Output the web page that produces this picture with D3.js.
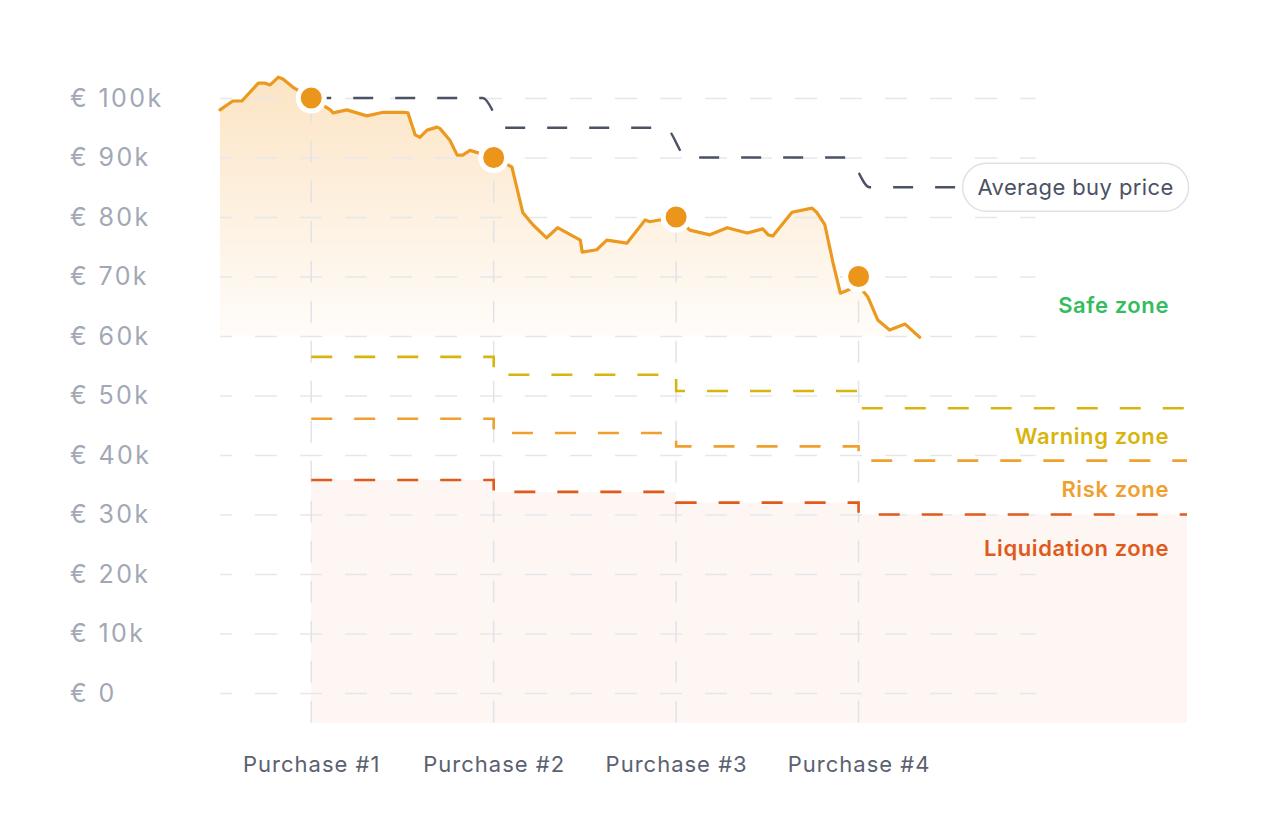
<!DOCTYPE html>
<html>
<head>
<meta charset="utf-8">
<script src="https://cdn.jsdelivr.net/npm/d3@7"></script>
<style>
  html, body { margin: 0; padding: 0; background: #fff; }
  svg { display: block; font-family: Inter, "Noto Sans", sans-serif; }
</style>
</head>
<body>
<div id="chart"></div>
<script>
// price in k€, time in days since start
var priceDays   = [0, 1.4, 2.4, 2.7, 4.2, 4.9, 5.5, 6.4, 6.9, 8.0, 10, 12.1, 12.4, 13.9, 15.0, 16.1, 17.9, 20.1, 20.6, 21.4, 21.9, 22.7, 23.8, 24.1, 25.2, 26.0, 26.6, 27.4, 30, 32.0, 33.2, 34.3, 35.8, 37.0, 39.5, 39.7, 41.3, 42.4, 44.6, 46.6, 47.1, 50, 51.5, 53.7, 55.6, 57.8, 59.5, 60.1, 60.6, 62.7, 64.9, 65.4, 66.3, 67.2, 68.0, 70, 71.0, 72.1, 73.4, 75.1, 76.7];
var priceValues = [98.0, 99.5, 99.5, 100.0, 102.5, 102.5, 102.2, 103.5, 103.2, 101.8, 100, 98.0, 97.5, 98.0, 97.5, 97.0, 97.6, 97.6, 97.5, 93.8, 93.4, 94.6, 95.1, 94.9, 92.9, 90.4, 90.4, 91.2, 90, 88.4, 80.7, 78.7, 76.5, 78.2, 76.1, 74.1, 74.5, 76.1, 75.6, 79.5, 79.2, 80, 77.8, 77.0, 78.2, 77.3, 78.0, 77.0, 76.8, 80.8, 81.5, 80.8, 78.7, 72.3, 67.2, 68.5, 66.6, 62.7, 61.0, 62.0, 59.8];

var purchaseLabels = ["Purchase #1", "Purchase #2", "Purchase #3", "Purchase #4"];
var purchaseDays   = [10, 30, 50, 70];
var purchasePrices = [100, 90, 80, 70];
var averageBuy     = [100, 95, 90, 85];

var warningLevels     = [56.5, 53.5, 50.75, 47.85];
var riskLevels        = [46.1, 43.7, 41.45, 39.05];
var liquidationLevels = [35.8, 33.8, 32.0, 30.0];

var yTicks = [0, 10, 20, 30, 40, 50, 60, 70, 80, 90, 100];
var zoneNames = ["Safe zone", "Warning zone", "Risk zone", "Liquidation zone"];

// layout
var W = 1280, H = 821;
var endDay = 106, gridEndDay = 89.4, avgEndDay = 81.4;
var bottomK = -5;
var zoneLabelK = [65.2, 43.2, 34.3, 24.4];
var zoneColors = ["#34bd5e", "#d8b50e", "#f0a02e", "#e05a1c"];
var orange = "#ec9a1f";

var svg = d3.select("#chart").append("svg")
    .attr("width", W)
    .attr("height", H);

var x = d3.scaleLinear().domain([0, endDay]).range([220, 1187]);
var y = d3.scaleLinear().domain([0, 100]).range([693, 98]);

var defs = svg.append("defs");
var grad = defs.append("linearGradient")
    .attr("id", "safe-grad")
    .attr("gradientUnits", "userSpaceOnUse")
    .attr("x1", 0).attr("x2", 0)
    .attr("y1", y(104)).attr("y2", y(60));
grad.append("stop").attr("offset", 0).attr("stop-color", "#f5a53a").attr("stop-opacity", 0.30);
grad.append("stop").attr("offset", 1).attr("stop-color", "#f5a53a").attr("stop-opacity", 0.03);

// liquidation fill
var liqData = purchaseDays.map(function(d, i) { return [d, liquidationLevels[i]]; });
liqData.push([endDay, liquidationLevels[liquidationLevels.length - 1]]);

svg.append("path")
    .datum(liqData)
    .attr("fill", "#fdf6f2")
    .attr("d", d3.area()
      .curve(d3.curveStepAfter)
      .x(function(d) { return x(d[0]); })
      .y0(y(bottomK))
      .y1(function(d) { return y(d[1]); }));

// price area (safe zone)
var priceData = priceDays.map(function(d, i) { return [d, priceValues[i]]; });

svg.append("path")
    .datum(priceData)
    .attr("fill", "url(#safe-grad)")
    .attr("d", d3.area()
      .x(function(d) { return x(d[0]); })
      .y0(y(60))
      .y1(function(d) { return y(d[1]); }));

// horizontal grid + y labels
var yAxis = svg.append("g")
    .attr("transform", "translate(" + x(0) + ",0)")
    .call(d3.axisLeft(y)
      .tickValues(yTicks)
      .tickSize(-(x(gridEndDay) - x(0)))
      .tickFormat(function(d) { return d === 0 ? "€ 0" : "€ " + d + "k"; }));

yAxis.select(".domain").remove();
yAxis.selectAll(".tick line")
    .attr("stroke", "#e6e7eb")
    .attr("stroke-width", 1.5)
    .attr("stroke-dasharray", "22,23")
    .attr("stroke-dashoffset", 10);
yAxis.selectAll(".tick text")
    .attr("x", 70 - x(0))
    .attr("text-anchor", "start")
    .attr("fill", "#a2a8b6")
    .attr("font-size", 25)
    .attr("letter-spacing", 2.4)
    .attr("font-family", "Inter, sans-serif");

// vertical purchase lines
svg.append("g").selectAll("line")
  .data(purchaseDays)
  .join("line")
    .attr("x1", function(d) { return x(d); })
    .attr("x2", function(d) { return x(d); })
    .attr("y1", y(bottomK))
    .attr("y2", function(d, i) { return y(purchasePrices[i]); })
    .attr("stroke", "#e2e3e7")
    .attr("stroke-width", 1.5)
    .attr("stroke-dasharray", "22,18");

// zone lines
var zoneLine = d3.line()
    .curve(d3.curveStepAfter)
    .x(function(d) { return x(d[0]); })
    .y(function(d) { return y(d[1]); });

[warningLevels, riskLevels, liquidationLevels].forEach(function(levels, k) {
  var data = purchaseDays.map(function(d, i) { return [d, levels[i]]; });
  data.push([endDay, levels[levels.length - 1]]);
  svg.append("path")
      .datum(data)
      .attr("fill", "none")
      .attr("stroke", zoneColors[k + 1])
      .attr("stroke-width", 2.6)
      .attr("stroke-dasharray", "21,22")
      .attr("d", zoneLine);
});

// average buy price line
var avgData = [];
averageBuy.forEach(function(v, i) {
  if (i === 0) avgData.push([purchaseDays[i], v]);
  else avgData.push([purchaseDays[i] + 1.2, v]);
  if (i < averageBuy.length - 1) avgData.push([purchaseDays[i + 1] - 1.2, v]);
  else avgData.push([avgEndDay, v]);
});

svg.append("path")
    .datum(avgData)
    .attr("fill", "none")
    .attr("stroke", "#4b5264")
    .attr("stroke-width", 2.3)
    .attr("stroke-dasharray", "20,22")
    .attr("d", d3.line()
      .curve(d3.curveMonotoneX)
      .x(function(d) { return x(d[0]); })
      .y(function(d) { return y(d[1]); }));

// price line
svg.append("path")
    .datum(priceData)
    .attr("fill", "none")
    .attr("stroke", orange)
    .attr("stroke-width", 3.2)
    .attr("stroke-linejoin", "round")
    .attr("stroke-linecap", "round")
    .attr("d", d3.line()
      .x(function(d) { return x(d[0]); })
      .y(function(d) { return y(d[1]); }));

// purchase dots
svg.append("g").selectAll("circle")
  .data(purchaseDays)
  .join("circle")
    .attr("cx", function(d) { return x(d); })
    .attr("cy", function(d, i) { return y(purchasePrices[i]); })
    .attr("r", 13)
    .attr("fill", "#eb961a")
    .attr("stroke", "#fff")
    .attr("stroke-width", 5);

// average buy price pill
var pill = svg.append("g")
    .attr("transform", "translate(" + x(avgEndDay) + "," + y(averageBuy[3]) + ")");
pill.append("rect")
    .attr("x", 0)
    .attr("y", -24)
    .attr("width", 226)
    .attr("height", 48)
    .attr("rx", 24)
    .attr("fill", "#fff")
    .attr("stroke", "#dfe1e6")
    .attr("stroke-width", 1.5);
pill.append("text")
    .attr("x", 113)
    .attr("y", 0)
    .attr("dy", "0.35em")
    .attr("text-anchor", "middle")
    .attr("fill", "#4b5264")
    .attr("font-size", 22)
    .attr("letter-spacing", 0.4)
    .text("Average buy price");

// zone labels
svg.append("g").selectAll("text")
  .data(zoneNames)
  .join("text")
    .attr("x", 1169)
    .attr("y", function(d, i) { return y(zoneLabelK[i]); })
    .attr("dy", "0.35em")
    .attr("text-anchor", "end")
    .attr("fill", function(d, i) { return zoneColors[i]; })
    .attr("font-size", 22)
    .attr("letter-spacing", 0.6)
    .attr("font-weight", 600)
    .text(function(d) { return d; });

// x labels
var xAxis = svg.append("g")
    .attr("transform", "translate(0,764)")
    .call(d3.axisBottom(x)
      .tickValues(purchaseDays)
      .tickSize(0)
      .tickFormat(function(d, i) { return purchaseLabels[i]; }));
xAxis.select(".domain").remove();
xAxis.selectAll(".tick text")
    .attr("y", 0)
    .attr("dy", "0.35em")
    .attr("fill", "#5b6170")
    .attr("font-size", 22)
    .attr("letter-spacing", 1)
    .attr("font-family", "Inter, sans-serif");
</script>
</body>
</html>
